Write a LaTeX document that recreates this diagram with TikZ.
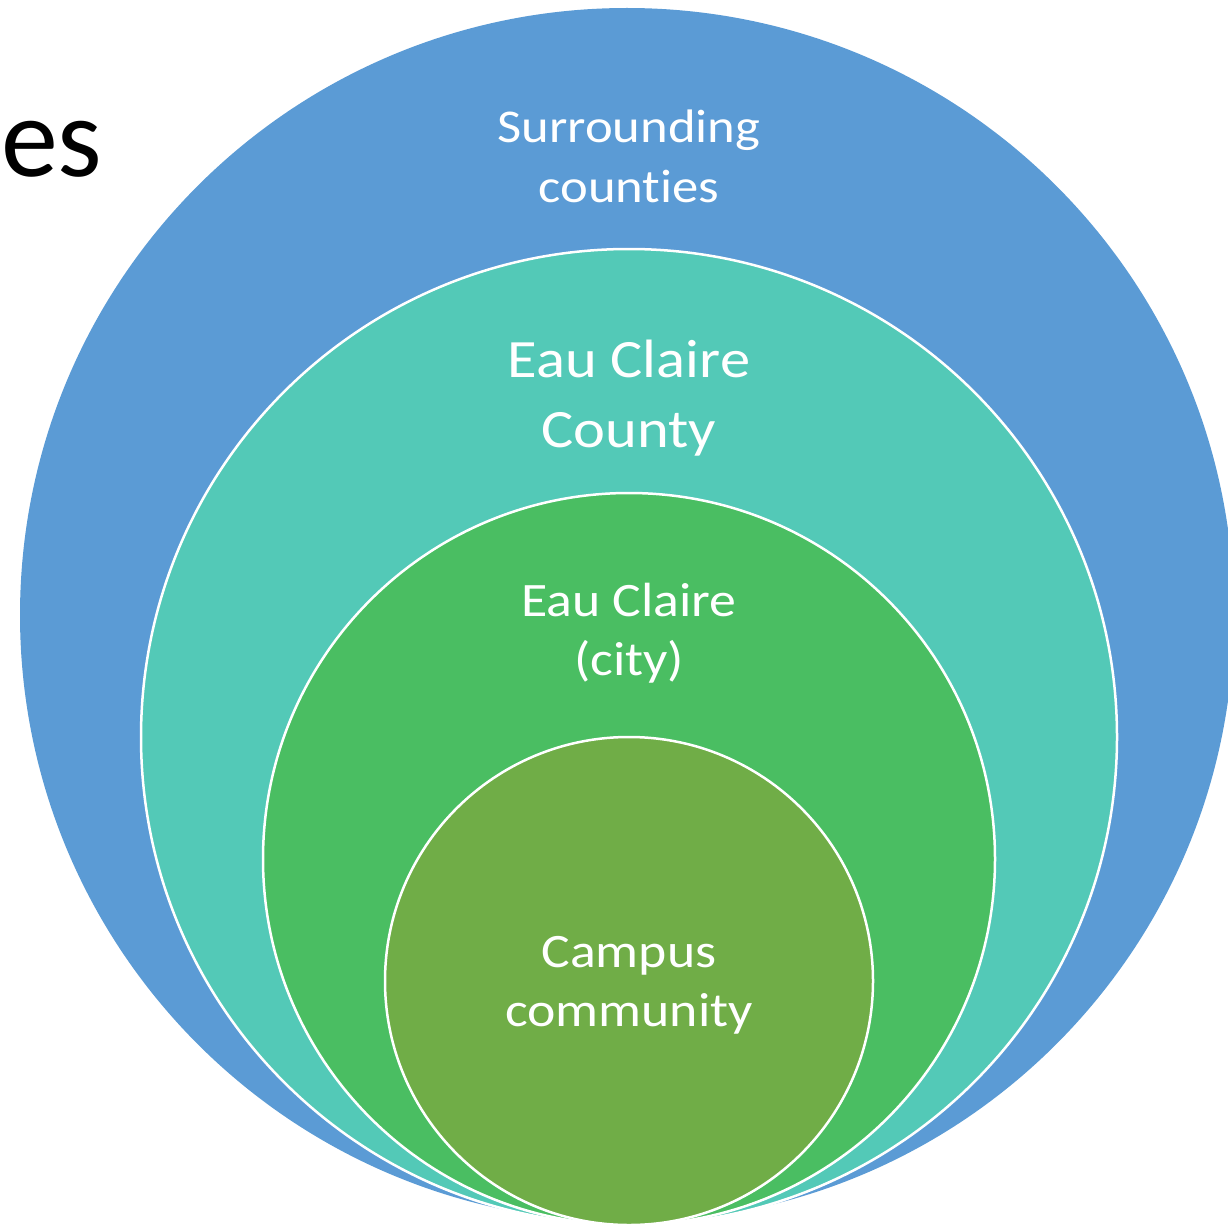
\documentclass[tikz,border=0pt]{standalone}
\usepackage{fontspec}
\setmainfont{Carlito}[Ligatures=NoCommon]
\newfontfamily\widefont{Carlito}[FakeStretch=1.12, Ligatures=NoCommon]
\definecolor{cblue}{HTML}{5B9BD5}
\definecolor{cteal}{HTML}{53C9B7}
\definecolor{cgreen}{HTML}{4ABE62}
\definecolor{colive}{HTML}{70AD47}
\tikzset{
  ring/.style={circle, draw=white, line width=2.5pt, inner sep=0pt, minimum size=#1},
  lbl/.style={text=white, align=center, inner sep=0pt},
}
\begin{document}
\begin{tikzpicture}[x=1pt,y=-1pt]
\useasboundingbox (0,0) rectangle (1228,1225);
\clip (0,0) rectangle (1228,1225);
\node[ring=1214pt, fill=cblue, draw=none] (outer) at (627,615) {};
\node[ring=976pt, fill=cteal] (county) at (629,737) {};
\node[ring=732pt, fill=cgreen] (city) at (629,859) {};
\node[ring=488pt, fill=colive] (campus) at (629,981) {};
\node[lbl, font=\widefont\fontsize{47}{60}\selectfont] (t1) at (629,161) {\strut Surrounding\\\strut counties};
\node[lbl, font=\widefont\fontsize{54}{70}\selectfont] (t2) at (629,398) {\strut Eau Claire\\\strut County};
\node[lbl, font=\widefont\fontsize{48}{59}\selectfont] (t3) at (629,634) {\strut Eau Claire\\\strut (city)};
\node[lbl, font=\widefont\fontsize{48}{59}\selectfont] (t4) at (629,985) {\strut Campus\\\strut community};
\node[anchor=base west, inner sep=0pt, font=\fontsize{114}{124}\selectfont] (es) at (1,177) {es};
\end{tikzpicture}
\end{document}
